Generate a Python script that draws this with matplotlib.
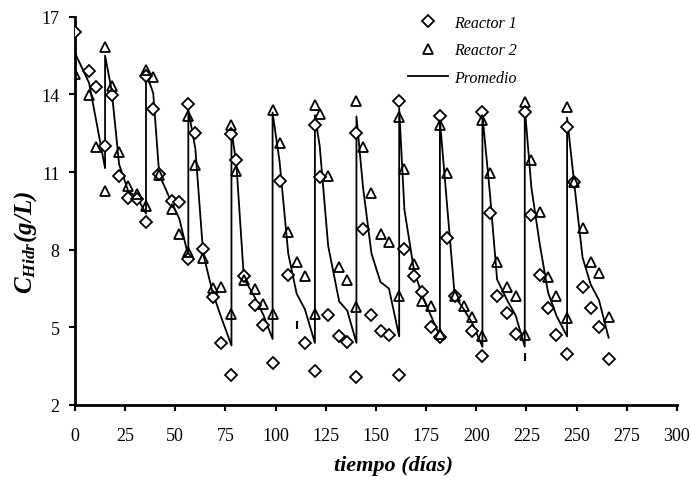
import numpy as np
import matplotlib
matplotlib.use("Agg")
import matplotlib.pyplot as plt

plt.rcParams['font.family'] = ['Liberation Serif', 'DejaVu Serif']
plt.rcParams['mathtext.fontset'] = 'custom'
plt.rcParams['mathtext.rm'] = 'Liberation Serif:italic:bold'
plt.rcParams['mathtext.it'] = 'Liberation Serif:italic:bold'

nan = np.nan

# sampling days (jump days appear twice: end of cycle / start of new cycle)
dias = [0, 7, 10.3, 15,
        15, 18.3, 22, 26.6, 30.7, 35.4,
        35.4, 39, 42, 48.6, 52, 56.5,
        56.5, 60, 63.9, 68.6, 72.6, 78,
        78, 80.5, 84.2, 89.7, 93.8, 98.5,
        98.5, 102, 106.3, 110.5, 114.6, 119.6,
        119.6, 122, 126.2, 131.7, 135.7, 140.3,
        140.3, 143.6, 147.8, 152.3, 156.5, 161.6,
        161.6, 164.2, 169, 173.2, 177.7, 181.9,
        181.9, 185.5, 189.3, 193.8, 198.1, 203.1,
        203.1, 206.8, 210.4, 215.4, 219.7, 224.2,
        224.2, 227.5, 231.6, 235.8, 240, 245.3,
        245.3, 248.8, 253, 257.1, 261.2, 266]

reactor1 = [16.42, 14.91, 14.28, 12.02,
            nan, 13.96, 10.86, 10.0, 9.96, 9.06,
            14.7, 13.44, 10.93, 9.9, 9.84, 7.64,
            13.63, 12.51, 8.03, 6.16, 4.4, 3.16,
            12.47, 11.48, 6.97, 5.87, 5.09, 3.62,
            nan, 10.65, 7.03, nan, 4.4, 3.33,
            12.82, 10.8, 5.48, 4.65, 4.45, 3.07,
            12.51, 8.8, 5.48, 4.87, 4.71, 3.16,
            13.74, 8.03, 6.97, 6.38, 5.03, 4.62,
            13.16, 8.44, 6.2, nan, 4.87, 3.88,
            13.34, 9.42, 6.2, 5.56, 4.74, nan,
            13.34, 9.34, 7.03, 5.74, 4.71, 3.97,
            12.73, 10.6, 6.57, 5.74, 5.0, 3.78]

reactor2 = [14.8, 13.98, 11.97, 10.28,
            15.85, 14.32, 11.77, 10.48, 10.15, 9.7,
            14.96, 14.67, 10.9, 9.58, 8.61, 7.9,
            13.18, 11.29, 7.67, 6.51, 6.55, 5.52,
            12.82, 11.03, 6.81, 6.48, 5.9, 5.52,
            13.38, 12.13, 8.67, 7.54, 6.97, 5.52,
            13.6, 13.25, 10.84, 7.32, 6.84, 5.78,
            13.76, 11.96, 10.2, 8.61, 8.29, 6.2,
            13.12, 11.1, 7.45, 6.03, 5.81, 4.74,
            12.8, 10.97, 6.22, 5.81, 5.39, 4.68,
            13.03, 10.97, 7.54, 6.55, 6.2, 4.71,
            13.7, 11.46, 9.47, 6.94, 6.2, 5.35,
            13.5, 10.6, 8.83, 7.54, 7.1, 5.39]

promedio = [15.6, 14.45, 13.1, 11.15,
            15.5, 14.15, 11.3, 10.25, 10.05, 9.4,
            14.85, 14.05, 10.9, 9.75, 9.2, 7.75,
            13.4, 11.9, 7.85, 6.35, 5.45, 4.3,
            12.65, 11.25, 6.9, 6.15, 5.5, 4.55,
            13.3, 11.4, 7.85, 6.3, 5.7, 4.4,
            13.2, 12.0, 8.15, 6.0, 5.65, 4.4,
            13.15, 10.4, 7.85, 6.75, 6.5, 4.65,
            13.45, 9.55, 7.2, 6.2, 5.4, 4.65,
            13.0, 9.7, 6.2, 5.7, 5.15, 4.25,
            13.2, 10.2, 6.85, 6.05, 5.45, 4.25,
            13.5, 10.4, 8.25, 6.35, 5.45, 4.65,
            13.1, 10.6, 7.7, 6.65, 6.05, 4.6]

# small stray marks seen in the original
marca_dias = [110.5, 224.2]
marca_vals = [5.1, 3.85]

fig = plt.figure(figsize=(6.91, 4.81), dpi=100)
ax = fig.add_axes([0.1085, 0.156, 0.871, 0.807])

ax.plot(dias, promedio, color='black', lw=1.3, label='Promedio', zorder=2)
ax.plot(dias, reactor1, ls='none', marker='D', ms=5.8, mfc='white', mec='black',
        mew=1.3, label='Reactor 1', zorder=3)
ax.plot(dias, reactor2, ls='none', marker='^', ms=7.5, mfc='none', mec='black',
        mew=1.3, label='Reactor 2', zorder=3)
ax.plot(marca_dias, marca_vals, ls='none', marker='|', ms=6, mec='black', mew=1.5)

ax.set_xlim(0, 300)
ax.set_ylim(2, 17)
ax.set_xticks(np.arange(0, 301, 25))
ax.set_yticks([2, 5, 8, 11, 14, 17])
ax.tick_params(direction='out', length=4, width=1.5, labelsize=13)
ax.tick_params(axis='x', pad=12)
ax.tick_params(axis='y', pad=7)
for s in ['top', 'right']:
    ax.spines[s].set_visible(False)
for s in ['left', 'bottom']:
    ax.spines[s].set_linewidth(2)

ax.set_xlabel('tiempo (días)', fontsize=16, fontweight='bold', fontstyle='italic')
ax.xaxis.set_label_coords(0.53, -0.13)
ax.set_ylabel(r'$C_{Hidr}(g/L)$', fontsize=18)
ax.yaxis.set_label_coords(-0.06, 0.42)

h, l = ax.get_legend_handles_labels()
ax.legend([h[1], h[2], h[0]], [l[1], l[2], l[0]], loc='upper left',
          bbox_to_anchor=(0.53, 1.042), frameon=False,
          prop={'style': 'italic', 'size': 11.5}, handlelength=2.5,
          labelspacing=0.72, handletextpad=0.35)

fig.savefig('out.png', dpi=100)
